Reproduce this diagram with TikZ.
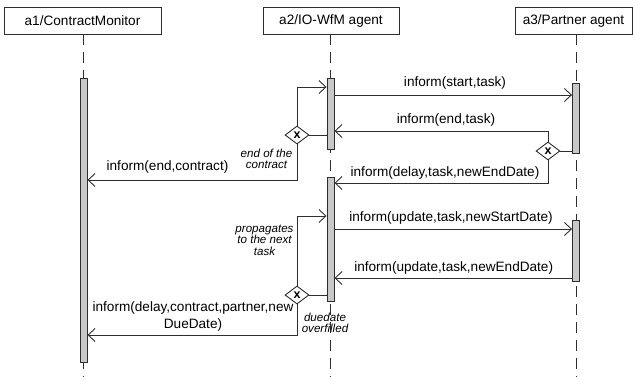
\documentclass[tikz,border=0pt]{standalone}
\usepackage{fontspec}
\setmainfont{Liberation Sans}
\usetikzlibrary{arrows.meta,shapes.geometric}
\definecolor{ink}{HTML}{2E2E2E}
\definecolor{actfill}{HTML}{C8C8C8}
\begin{document}
\begin{tikzpicture}[x=1pt,y=-1pt,
  every node/.style={text=black},
  header/.style={draw=ink,line width=0.9pt,rectangle,minimum height=27pt,inner sep=0pt,font=\fontsize{13.6}{16}\selectfont},
  lifeline/.style={draw=ink,line width=1pt,dash pattern=on 11pt off 7pt},
  act/.style={draw=ink,fill=actfill,line width=0.9pt,rectangle,minimum width=7pt,inner sep=0pt},
  msg/.style={draw=ink,line width=0.9pt,-{Straight Barb[length=7pt,width=13pt,line width=0.9pt]}},
  plain/.style={draw=ink,line width=0.9pt},
  dia/.style={diamond,draw=ink,line width=0.9pt,fill=white,minimum width=24pt,minimum height=18pt,inner sep=0pt,font=\fontsize{12.5}{12.5}\bfseries\selectfont},
  lbl/.style={font=\fontsize{13.6}{17}\selectfont,inner sep=0pt,align=center},
  note/.style={font=\fontsize{11.6}{11.6}\itshape\selectfont,inner sep=0pt,align=center}]
\useasboundingbox (0,0) rectangle (633,377);

% participants
\node[header,minimum width=157pt] (h1) at (82.5,20.5) {a1/ContractMonitor};
\node[header,minimum width=136pt] (h2) at (331,20.5) {a2/IO-WfM agent};
\node[header,minimum width=117pt] (h3) at (573.5,20.5) {a3/Partner agent};

% lifelines
\coordinate (e1) at (83.5,377);
\coordinate (e2) at (330.5,377);
\coordinate (e3) at (576,377);
\draw[lifeline] (h1.south -| e1) -- (e1);
\draw[lifeline] (h2.south -| e2) -- (e2);
\draw[lifeline] (h3.south -| e3) -- (e3);

% activations
\node[act,minimum height=284pt] (act1) at (83.5,220) {};
\node[act,minimum height=71pt] (act2a) at (330.5,113.5) {};
\node[act,minimum height=124pt] (act2b) at (330.5,239.8) {};
\node[act,minimum height=70pt] (act3a) at (576,118.3) {};
\node[act,minimum height=61pt] (act3b) at (576,251.2) {};

% decision points
\node[dia] (d1) at (297,135) {x};
\node[dia] (d2) at (548,151) {x};
\node[dia] (d3) at (297,295) {x};

% messages between a2 and a3
\draw[msg] (act2a.east |- 0,95) -- (act3a.west |- 0,95);
\draw[plain] (d2.east) -- (act3a.west |- d2);
\draw[msg] (d2.north) |- (act2a.east |- 0,131);
\draw[msg] (d2.south) |- (act2b.east |- 0,183);
\draw[msg] (act2b.east |- 0,229) -- (act3b.west |- 0,229);
\draw[msg] (act3b.west |- 0,278) -- (act2b.east |- 0,278);

% branches of a2
\draw[plain] (d1.east) -- (act2a.west |- d1);
\draw[msg] (d1.north) |- (act2a.west |- 0,87);
\draw[msg] (d1.south) |- (act1.east |- 0,180);
\draw[plain] (d3.east) -- (act2b.west |- d3);
\draw[msg] (d3.north) |- (act2b.west |- 0,216);
\draw[msg] (d3.south) |- (act1.east |- 0,335);

% message labels
\node[lbl] (l1) at (455,82.5) {inform(start,task)};
\node[lbl] (l2) at (446,120) {inform(end,task)};
\node[lbl] (l3) at (445,173) {inform(delay,task,newEndDate)};
\node[lbl] (l4) at (167.5,167) {inform(end,contract)};
\node[lbl] (l5) at (451,218) {inform(update,task,newStartDate)};
\node[lbl] (l6) at (453.7,268) {inform(update,task,newEndDate)};
\node[lbl] (l7) at (193,316.5) {inform(delay,contract,partner,new\\DueDate)};

% guard notes
\node[note] (n1) at (266.5,159) {end of the\\contract};
\node[note] (n2) at (264.5,240) {propagates\\to the next\\task};
\node[note] (n3) at (325,323) {duedate\\overfilled};
\end{tikzpicture}
\end{document}
